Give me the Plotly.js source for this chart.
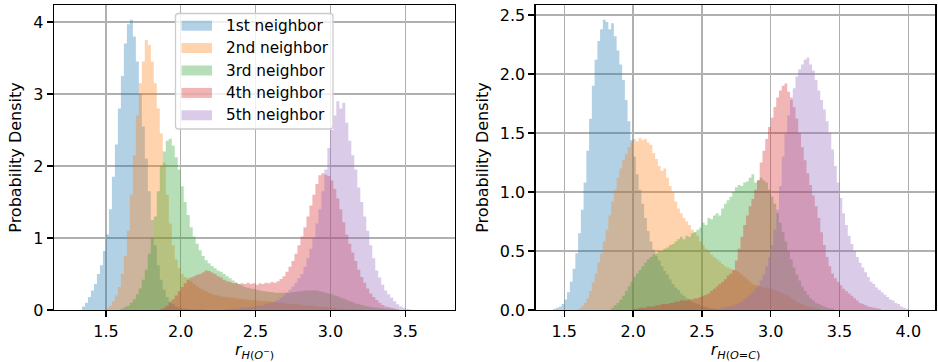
<!DOCTYPE html>
<html>
<head>
<meta charset="utf-8">
<script src="https://cdn.plot.ly/plotly-3.0.1.min.js"></script>
<style>
  html, body { margin: 0; padding: 0; background: #fff; }
  #chart { width: 938px; height: 362px; }
</style>
</head>
<body>
<div id="chart"></div>
<script>
// Histogram densities of the n-th nearest neighbour distance, bin width BIN.
// Each series is given by the left edge of its first bin and the bin heights.
const BIN = 0.02;

const neighborLabels = ['1st neighbor', '2nd neighbor', '3rd neighbor', '4th neighbor', '5th neighbor'];
const neighborColors = ['31,119,180', '255,127,14', '44,160,44', '214,39,40', '148,103,189'];

// ---- r_H(O-) panel ----
const anionStart = [1.34, 1.50, 1.60, 1.86, 2.30];

const anion1st = [0.05,0.1,0.18,0.27,0.36,0.5,0.62,0.82,1.05,1.4,1.85,2.3,2.8,3.25,3.7,3.97,4.03,3.8,3.45,3.0,
  2.55,2.1,1.65,1.25,0.9,0.62,0.42,0.28,0.18,0.12,0.08,0.05,0.035,0.025,0.02,0.015,0.012,0.01,0.008,0.006,0.005];

const anion2nd = [0.03,0.06,0.12,0.2,0.32,0.5,0.75,1.1,1.6,2.15,2.7,3.15,3.45,3.75,3.68,3.45,3.15,2.8,2.45,2.05,
  1.6,1.2,0.9,0.7,0.58,0.5,0.46,0.44,0.4,0.36,0.33,0.3,0.28,0.26,0.24,0.22,0.21,0.2,0.19,0.18,
  0.18,0.17,0.17,0.16,0.16,0.15,0.15,0.14,0.14,0.14,0.13,0.13,0.12,0.12,0.12,0.11,0.11,0.1,0.1,0.1,
  0.09,0.09,0.08,0.08,0.08,0.07,0.07,0.06,0.06,0.06,0.05,0.05,0.04,0.04,0.035,0.03,0.03,0.025,0.02,0.02,
  0.015,0.015,0.01,0.01,0.008,0.006];

const anion3rd = [0.02,0.04,0.06,0.1,0.15,0.22,0.3,0.42,0.56,0.78,1.0,1.3,1.65,2.0,2.2,2.35,2.38,2.28,2.12,1.95,
  1.72,1.5,1.32,1.15,1.02,0.92,0.83,0.75,0.69,0.65,0.61,0.58,0.55,0.53,0.5,0.47,0.44,0.41,0.38,0.36,
  0.34,0.32,0.31,0.3,0.29,0.28,0.27,0.26,0.26,0.25,0.25,0.24,0.24,0.24,0.24,0.24,0.24,0.25,0.25,0.26,
  0.26,0.27,0.27,0.27,0.27,0.27,0.26,0.25,0.24,0.23,0.22,0.2,0.19,0.17,0.16,0.14,0.12,0.11,0.09,0.08,
  0.07,0.06,0.05,0.04,0.035,0.03,0.025,0.02,0.015,0.01,0.008,0.005];

const anion4th = [0.01,0.03,0.06,0.1,0.15,0.2,0.26,0.32,0.37,0.42,0.45,0.47,0.49,0.5,0.52,0.55,0.54,0.52,0.5,0.47,
  0.45,0.42,0.4,0.39,0.37,0.38,0.36,0.37,0.36,0.38,0.36,0.37,0.35,0.37,0.36,0.38,0.37,0.39,0.38,0.4,
  0.43,0.47,0.53,0.6,0.68,0.78,0.9,1.02,1.15,1.3,1.45,1.6,1.75,1.87,1.9,1.88,1.86,1.8,1.68,1.55,
  1.4,1.22,1.05,0.92,0.8,0.68,0.56,0.46,0.38,0.3,0.23,0.18,0.14,0.1,0.07,0.05,0.04,0.03,0.02,0.01];

const anion5th = [0.01,0.01,0.02,0.02,0.02,0.03,0.03,0.04,0.04,0.05,0.06,0.06,0.07,0.08,0.09,0.1,0.12,0.14,0.17,0.2,
  0.24,0.28,0.33,0.38,0.44,0.5,0.6,0.72,0.85,1.0,1.2,1.4,1.65,1.95,2.25,2.5,2.7,2.9,2.8,2.88,
  2.6,2.35,2.15,1.95,1.7,1.5,1.3,1.1,0.9,0.72,0.55,0.45,0.35,0.27,0.22,0.17,0.12,0.08,0.05,0.03,
  0.015,0.01];

// ---- r_H(O=C) panel ----
const carbonylStart = [1.42, 1.60, 1.84, 2.00, 2.60];

const carbonyl1st = [0.01,0.02,0.03,0.05,0.09,0.15,0.24,0.35,0.48,0.65,0.85,1.08,1.35,1.62,1.9,2.12,2.28,2.38,2.46,2.44,
  2.38,2.43,2.32,2.2,2.08,1.95,1.78,1.6,1.44,1.3,1.15,1.02,0.9,0.78,0.67,0.58,0.51,0.46,0.42,0.37,
  0.33,0.3,0.26,0.22,0.19,0.17,0.14,0.12,0.1,0.09,0.07,0.06,0.05,0.04,0.03,0.025,0.02,0.015,0.01];

const carbonyl2nd = [0.01,0.03,0.06,0.1,0.16,0.23,0.31,0.4,0.48,0.58,0.68,0.8,0.92,1.02,1.12,1.2,1.27,1.32,1.38,1.42,
  1.45,1.43,1.46,1.44,1.45,1.42,1.4,1.33,1.28,1.22,1.18,1.2,1.12,1.05,1.0,0.92,0.86,0.82,0.78,0.75,
  0.72,0.68,0.66,0.63,0.58,0.55,0.52,0.5,0.47,0.45,0.43,0.41,0.39,0.37,0.36,0.35,0.34,0.33,0.32,0.3,
  0.28,0.26,0.24,0.22,0.21,0.2,0.2,0.19,0.19,0.18,0.18,0.17,0.16,0.15,0.14,0.13,0.12,0.1,0.09,0.07,
  0.06,0.05,0.04,0.03,0.025,0.02,0.015,0.01];

const carbonyl3rd = [0.02,0.04,0.06,0.09,0.12,0.16,0.2,0.24,0.28,0.31,0.34,0.37,0.4,0.43,0.45,0.47,0.48,0.5,0.5,0.52,
  0.53,0.55,0.56,0.58,0.6,0.62,0.6,0.63,0.62,0.65,0.66,0.68,0.7,0.74,0.72,0.78,0.77,0.8,0.82,0.8,
  0.86,0.9,0.93,0.96,1.0,1.04,1.06,1.05,1.08,1.09,1.12,1.15,1.08,1.1,1.12,1.1,1.08,1.02,0.96,0.9,
  0.82,0.74,0.66,0.58,0.5,0.43,0.36,0.3,0.25,0.2,0.16,0.13,0.1,0.08,0.06,0.05,0.04,0.03,0.02,0.015,
  0.01];

const carbonyl4th = [0.01,0.01,0.02,0.02,0.02,0.03,0.03,0.03,0.04,0.04,0.05,0.05,0.05,0.06,0.06,0.07,0.07,0.08,0.08,0.08,
  0.09,0.09,0.1,0.1,0.11,0.12,0.13,0.14,0.16,0.18,0.2,0.22,0.24,0.26,0.29,0.31,0.34,0.42,0.52,0.62,
  0.72,0.8,0.88,0.94,1.02,1.1,1.25,1.35,1.45,1.55,1.63,1.72,1.8,1.86,1.9,1.92,1.85,1.8,1.72,1.62,
  1.5,1.38,1.27,1.16,1.06,0.97,0.88,0.78,0.66,0.55,0.45,0.37,0.31,0.27,0.24,0.21,0.18,0.16,0.14,0.12,
  0.1,0.08,0.06,0.05,0.04,0.03,0.025,0.02,0.015,0.01];

const carbonyl5th = [0.01,0.01,0.02,0.02,0.03,0.03,0.04,0.05,0.06,0.07,0.09,0.11,0.13,0.15,0.18,0.21,0.25,0.3,0.37,0.45,
  0.55,0.68,0.85,1.05,1.3,1.5,1.65,1.78,1.88,1.98,2.04,2.08,2.12,2.14,2.08,2.03,1.95,1.86,1.78,1.7,
  1.6,1.5,1.36,1.22,1.08,0.95,0.82,0.72,0.63,0.56,0.5,0.45,0.4,0.36,0.32,0.28,0.24,0.22,0.19,0.17,
  0.15,0.13,0.11,0.09,0.08,0.06,0.05,0.03,0.02,0.01];

const anionSeries = [anion1st, anion2nd, anion3rd, anion4th, anion5th];
const carbonylSeries = [carbonyl1st, carbonyl2nd, carbonyl3rd, carbonyl4th, carbonyl5th];

const ALPHA = 0.34;
const FONT = 'DejaVu Sans, Verdana, sans-serif';
const FS = 16;
const LEGEND_FS = 15.3;

// A filled step outline: one flat segment per bin, closed down to zero.
function stepTrace(start, heights, rgb, xa, ya, name) {
  const edges = heights.map((_, i) => start + i * BIN);
  edges.push(start + heights.length * BIN);
  const ys = heights.concat([heights[heights.length - 1]]);
  return {
    type: 'scatter', mode: 'lines', name: name,
    x: edges, y: ys, xaxis: xa, yaxis: ya,
    line: { shape: 'hv', width: 0, color: 'rgba(' + rgb + ',0)' },
    fill: 'tozeroy', fillcolor: 'rgba(' + rgb + ',' + ALPHA + ')',
    hoverinfo: 'skip', showlegend: false
  };
}

const traces = [];
anionSeries.forEach((h, i) => traces.push(stepTrace(anionStart[i], h, neighborColors[i], 'x', 'y', neighborLabels[i])));
carbonylSeries.forEach((h, i) => traces.push(stepTrace(carbonylStart[i], h, neighborColors[i], 'x2', 'y2', neighborLabels[i])));

const W = 938, H = 362;
const fx = p => p / W;
const fy = p => 1 - p / H;

function axisStyle(extra) {
  return Object.assign({
    showline: true, mirror: true, linecolor: '#000', linewidth: 1.3,
    showgrid: true, gridcolor: '#b0b0b0', gridwidth: 1.3,
    zeroline: false, ticks: 'outside', ticklen: 6, tickwidth: 1.3, tickcolor: '#000',
    tickfont: { family: FONT, size: FS, color: '#000' },
    fixedrange: true
  }, extra);
}

const titleFont = { family: FONT, size: FS, color: '#000' };

const layout = {
  width: W, height: H,
  margin: { l: 0, r: 0, t: 0, b: 0 },
  paper_bgcolor: '#fff', plot_bgcolor: '#fff',
  showlegend: false,
  xaxis: axisStyle({
    domain: [fx(54), fx(455)], range: [1.153, 3.833], anchor: 'y',
    tickvals: [1.5, 2.0, 2.5, 3.0, 3.5], tickformat: '.1f',
    title: { text: '<i>r</i><sub><i>H</i>(<i>O</i><sup>−</sup>)</sub>', font: titleFont, standoff: 3 }
  }),
  yaxis: axisStyle({
    domain: [fy(310), fy(5)], range: [0, 4.236], anchor: 'x',
    tickvals: [0, 1, 2, 3, 4],
    title: { text: 'Probability Density', font: titleFont, standoff: 7 }
  }),
  xaxis2: axisStyle({
    domain: [fx(535.7), fx(935.3)], range: [1.292, 4.196], anchor: 'y2',
    tickvals: [1.5, 2.0, 2.5, 3.0, 3.5, 4.0], tickformat: '.1f',
    title: { text: '<i>r</i><sub><i>H</i>(<i>O</i>=<i>C</i>)</sub>', font: titleFont, standoff: 3 }
  }),
  yaxis2: axisStyle({
    domain: [fy(310), fy(5)], range: [0, 2.585], anchor: 'x2',
    tickvals: [0, 0.5, 1.0, 1.5, 2.0, 2.5], tickformat: '.1f',
    title: { text: 'Probability Density', font: titleFont, standoff: 7 }
  }),
  shapes: [],
  annotations: []
};

// Legend box for the left panel, with rounded corners.
(function legend() {
  const L = 175.5, T = 13.5, R = 333, B = 129, r = 3;
  const p = (x, y) => fx(x) + ',' + fy(y);
  const path = 'M' + p(L + r, T) + ' L' + p(R - r, T) + ' Q' + p(R, T) + ' ' + p(R, T + r) +
    ' L' + p(R, B - r) + ' Q' + p(R, B) + ' ' + p(R - r, B) +
    ' L' + p(L + r, B) + ' Q' + p(L, B) + ' ' + p(L, B - r) +
    ' L' + p(L, T + r) + ' Q' + p(L, T) + ' ' + p(L + r, T) + ' Z';
  layout.shapes.push({
    type: 'path', xref: 'paper', yref: 'paper', path: path,
    fillcolor: 'rgba(255,255,255,0.8)', line: { color: '#cccccc', width: 1.3 }, layer: 'above'
  });
  const rowY = [25.7, 48.1, 70.5, 92.9, 115.3];
  neighborLabels.forEach((lab, i) => {
    const cy = rowY[i];
    layout.shapes.push({
      type: 'rect', xref: 'paper', yref: 'paper',
      x0: fx(181.5), x1: fx(212), y0: fy(cy + 5), y1: fy(cy - 5),
      fillcolor: 'rgba(' + neighborColors[i] + ',' + ALPHA + ')', line: { width: 0 }, layer: 'above'
    });
    layout.annotations.push({
      xref: 'paper', yref: 'paper', x: fx(223.5), y: fy(cy),
      xanchor: 'left', yanchor: 'middle', showarrow: false,
      text: lab, font: { family: FONT, size: LEGEND_FS, color: '#000' }
    });
  });
})();

Plotly.newPlot('chart', traces, layout, { displayModeBar: false, staticPlot: true });
</script>
</body>
</html>
